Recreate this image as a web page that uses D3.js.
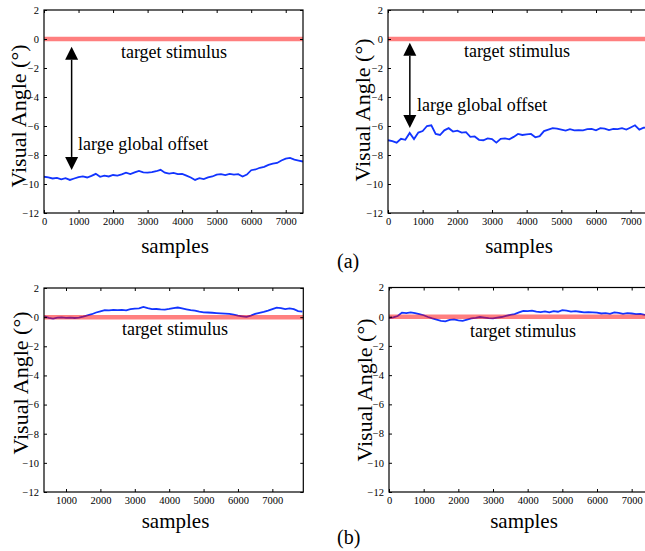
<html>
<script src='https://d3js.org/d3.v7.min.js'></script>
<style>
body {margin: 0; background: white;}
text {font-family: "Liberation Serif", "Times New Roman", serif;}
</style>
<body>
<svg width=645 height=551></svg>
<script>
// samples along the x axis, 125 apart
var stepA = d3.range(0, 7501, 125);
var stepB1 = d3.range(375, 7876, 125).concat([7900]);

// (a) left: large global offset
var a1Angle = [-9.5,-9.55,-9.62,-9.58,-9.68,-9.6,-9.72,-9.62,-9.52,-9.48,-9.55,-9.44,-9.3,-9.5,-9.42,-9.48,
  -9.38,-9.42,-9.34,-9.22,-9.32,-9.2,-9.1,-9.2,-9.22,-9.18,-9.12,-9.02,-9.22,-9.28,-9.24,-9.32,
  -9.3,-9.42,-9.55,-9.72,-9.6,-9.66,-9.55,-9.48,-9.35,-9.32,-9.38,-9.3,-9.35,-9.32,-9.48,-9.35,
  -9.05,-9.0,-8.88,-8.82,-8.68,-8.6,-8.55,-8.38,-8.25,-8.2,-8.32,-8.38,-8.45];
// (a) right
var a2Angle = [-6.98,-7.05,-7.15,-6.88,-6.95,-6.48,-6.9,-6.45,-6.35,-6.0,-5.95,-6.55,-6.62,-6.3,-6.15,-6.38,
  -6.32,-6.45,-6.42,-6.75,-6.72,-6.95,-6.98,-6.85,-6.9,-7.15,-6.88,-6.85,-6.92,-6.75,-6.55,-6.62,
  -6.58,-6.55,-6.78,-6.7,-6.35,-6.25,-6.15,-6.18,-6.25,-6.32,-6.22,-6.3,-6.28,-6.3,-6.22,-6.2,
  -6.3,-6.15,-6.18,-6.28,-6.2,-6.22,-6.15,-6.25,-6.1,-5.95,-6.25,-6.12,-6.1];
// (b) left: after correction
var b1Angle = [0.05,-0.05,-0.1,-0.04,-0.02,-0.05,-0.03,-0.06,-0.04,0.03,0.12,0.2,0.32,0.4,0.48,0.47,
  0.5,0.48,0.5,0.47,0.55,0.58,0.6,0.7,0.62,0.55,0.56,0.53,0.52,0.56,0.62,0.66,
  0.6,0.54,0.48,0.45,0.38,0.33,0.32,0.3,0.28,0.26,0.24,0.22,0.18,0.1,0.06,0.02,
  0.1,0.22,0.3,0.36,0.45,0.55,0.65,0.62,0.55,0.6,0.55,0.42,0.38];
// (b) right
var b2Angle = [-0.1,-0.05,0.05,0.28,0.25,0.3,0.25,0.18,0.1,-0.02,-0.12,-0.2,-0.28,-0.32,-0.22,-0.18,
  -0.25,-0.28,-0.2,-0.12,-0.08,-0.02,-0.06,-0.1,-0.12,-0.06,-0.02,0.05,0.12,0.18,0.3,0.4,
  0.38,0.42,0.35,0.32,0.36,0.3,0.38,0.34,0.45,0.42,0.35,0.38,0.34,0.3,0.32,0.3,
  0.28,0.22,0.25,0.2,0.3,0.26,0.2,0.25,0.22,0.18,0.2,0.12,0.15];

var target = 0;
var yTicks = [2, 0, -2, -4, -6, -8, -10, -12];
var xTicks = [0, 1000, 2000, 3000, 4000, 5000, 6000, 7000];

var panels = [
  {id: "a1", x: stepA, y: a1Angle, left: 44, right: 303, top: 10, bottom: 213, dom: [0, 7500],
   yTitle: [26, 116], xTitle: [175, 253], tgt: [174, 58], offset: [78, 150], arrow: [800, -0.53, -9.03]},
  {id: "a2", x: stepA, y: a2Angle, left: 388, right: 648, top: 10, bottom: 213, dom: [0, 7500],
   yTitle: [370, 110], xTitle: [519, 253], tgt: [517, 57], offset: [417, 111], arrow: [630, -0.26, -6.14]},
  {id: "b1", x: stepB1, y: b1Angle, left: 44, right: 303.3, top: 288, bottom: 492, dom: [360, 7900],
   yTitle: [28, 383], xTitle: [175.5, 528], tgt: [175, 335]},
  {id: "b2", x: stepA, y: b2Angle, left: 389, right: 649, top: 287.5, bottom: 492, dom: [0, 7500],
   yTitle: [372, 390], xTitle: [524, 528], tgt: [523, 336.7]}
];

var svg = d3.select("svg");

panels.forEach(function(p) {
  var xs = d3.scaleLinear().domain(p.dom).range([p.left, p.right]);
  var ys = d3.scaleLinear().domain([-12, 2]).range([p.bottom, p.top]);
  var ticksX = xTicks.filter(function(d){ return d >= p.dom[0] && d <= p.dom[1]; });

  svg.append("clipPath").attr("id", "clip-" + p.id)
    .append("rect").attr("x", p.left).attr("y", p.top)
    .attr("width", p.right - p.left).attr("height", p.bottom - p.top);

  var g = svg.append("g");

  // eye trace
  var line = d3.line()
    .x(function(d, i){ return xs(p.x[i]); })
    .y(function(d){ return ys(d); });
  g.append("path").datum(p.y)
    .attr("clip-path", "url(#clip-" + p.id + ")")
    .attr("d", line)
    .attr("fill", "none").attr("stroke", "#1234ff").attr("stroke-width", 1.8);

  // target stimulus line
  g.append("line")
    .attr("x1", xs(p.dom[0])).attr("x2", xs(p.dom[1]))
    .attr("y1", ys(target)).attr("y2", ys(target))
    .attr("stroke", "rgb(255,0,0)").attr("stroke-opacity", 0.5).attr("stroke-width", 4.5);

  // box with inward ticks on all sides
  g.append("rect").attr("x", p.left).attr("y", p.top)
    .attr("width", p.right - p.left).attr("height", p.bottom - p.top)
    .attr("fill", "none").attr("stroke", "black").attr("stroke-width", 1.2);

  g.append("g").attr("transform", "translate(0," + p.bottom + ")")
    .call(d3.axisBottom(xs).tickValues(ticksX).tickFormat(d3.format("d"))
      .tickSizeInner(-3).tickSizeOuter(0).tickPadding(5))
    .call(function(a){ a.select(".domain").remove(); });
  g.append("g").attr("transform", "translate(0," + p.top + ")")
    .call(d3.axisTop(xs).tickValues(ticksX).tickSizeInner(-3).tickSizeOuter(0).tickFormat(""))
    .call(function(a){ a.select(".domain").remove(); });
  g.append("g").attr("transform", "translate(" + p.left + ",0)")
    .call(d3.axisLeft(ys).tickValues(yTicks).tickFormat(d3.format("d"))
      .tickSizeInner(-3).tickSizeOuter(0).tickPadding(5))
    .call(function(a){ a.select(".domain").remove(); });
  g.append("g").attr("transform", "translate(" + p.right + ",0)")
    .call(d3.axisRight(ys).tickValues(yTicks).tickSizeInner(-3).tickSizeOuter(0).tickFormat(""))
    .call(function(a){ a.select(".domain").remove(); });

  g.selectAll(".tick text")
    .attr("font-family", "Liberation Serif")
    .style("font-family", "'Liberation Serif', serif").style("font-size", "10.5px")
    .attr("fill", "black");
  g.selectAll(".tick line").attr("stroke", "black");

  // titles
  g.append("text")
    .attr("transform", "translate(" + p.yTitle[0] + "," + p.yTitle[1] + ") rotate(-90)")
    .attr("text-anchor", "middle").style("font-size", "22px")
    .text("Visual Angle (°)");
  g.append("text").attr("x", p.xTitle[0]).attr("y", p.xTitle[1])
    .attr("text-anchor", "middle").style("font-size", "21px")
    .text("samples");
  g.append("text").attr("x", p.tgt[0]).attr("y", p.tgt[1])
    .attr("text-anchor", "middle").style("font-size", "18px")
    .text("target stimulus");

  if (p.arrow) {
    g.append("text").attr("x", p.offset[0]).attr("y", p.offset[1])
      .style("font-size", "18px").text("large global offset");
    var ax = xs(p.arrow[0]), y0 = ys(p.arrow[1]), y1 = ys(p.arrow[2]);
    var hl = 13, hw = 6.5;
    g.append("line").attr("x1", ax).attr("x2", ax).attr("y1", y0 + hl).attr("y2", y1 - hl)
      .attr("stroke", "black").attr("stroke-width", 1.5);
    g.append("path")
      .attr("d", "M" + ax + "," + y0 + "L" + (ax - hw) + "," + (y0 + hl) + "L" + (ax + hw) + "," + (y0 + hl) + "Z")
      .attr("fill", "black");
    g.append("path")
      .attr("d", "M" + ax + "," + y1 + "L" + (ax - hw) + "," + (y1 - hl) + "L" + (ax + hw) + "," + (y1 - hl) + "Z")
      .attr("fill", "black");
  }
});

// sub-figure captions
svg.append("text").attr("x", 337).attr("y", 268).style("font-size", "20px").text("(a)");
svg.append("text").attr("x", 337).attr("y", 544).style("font-size", "20px").text("(b)");
</script>
</body>
</html>
